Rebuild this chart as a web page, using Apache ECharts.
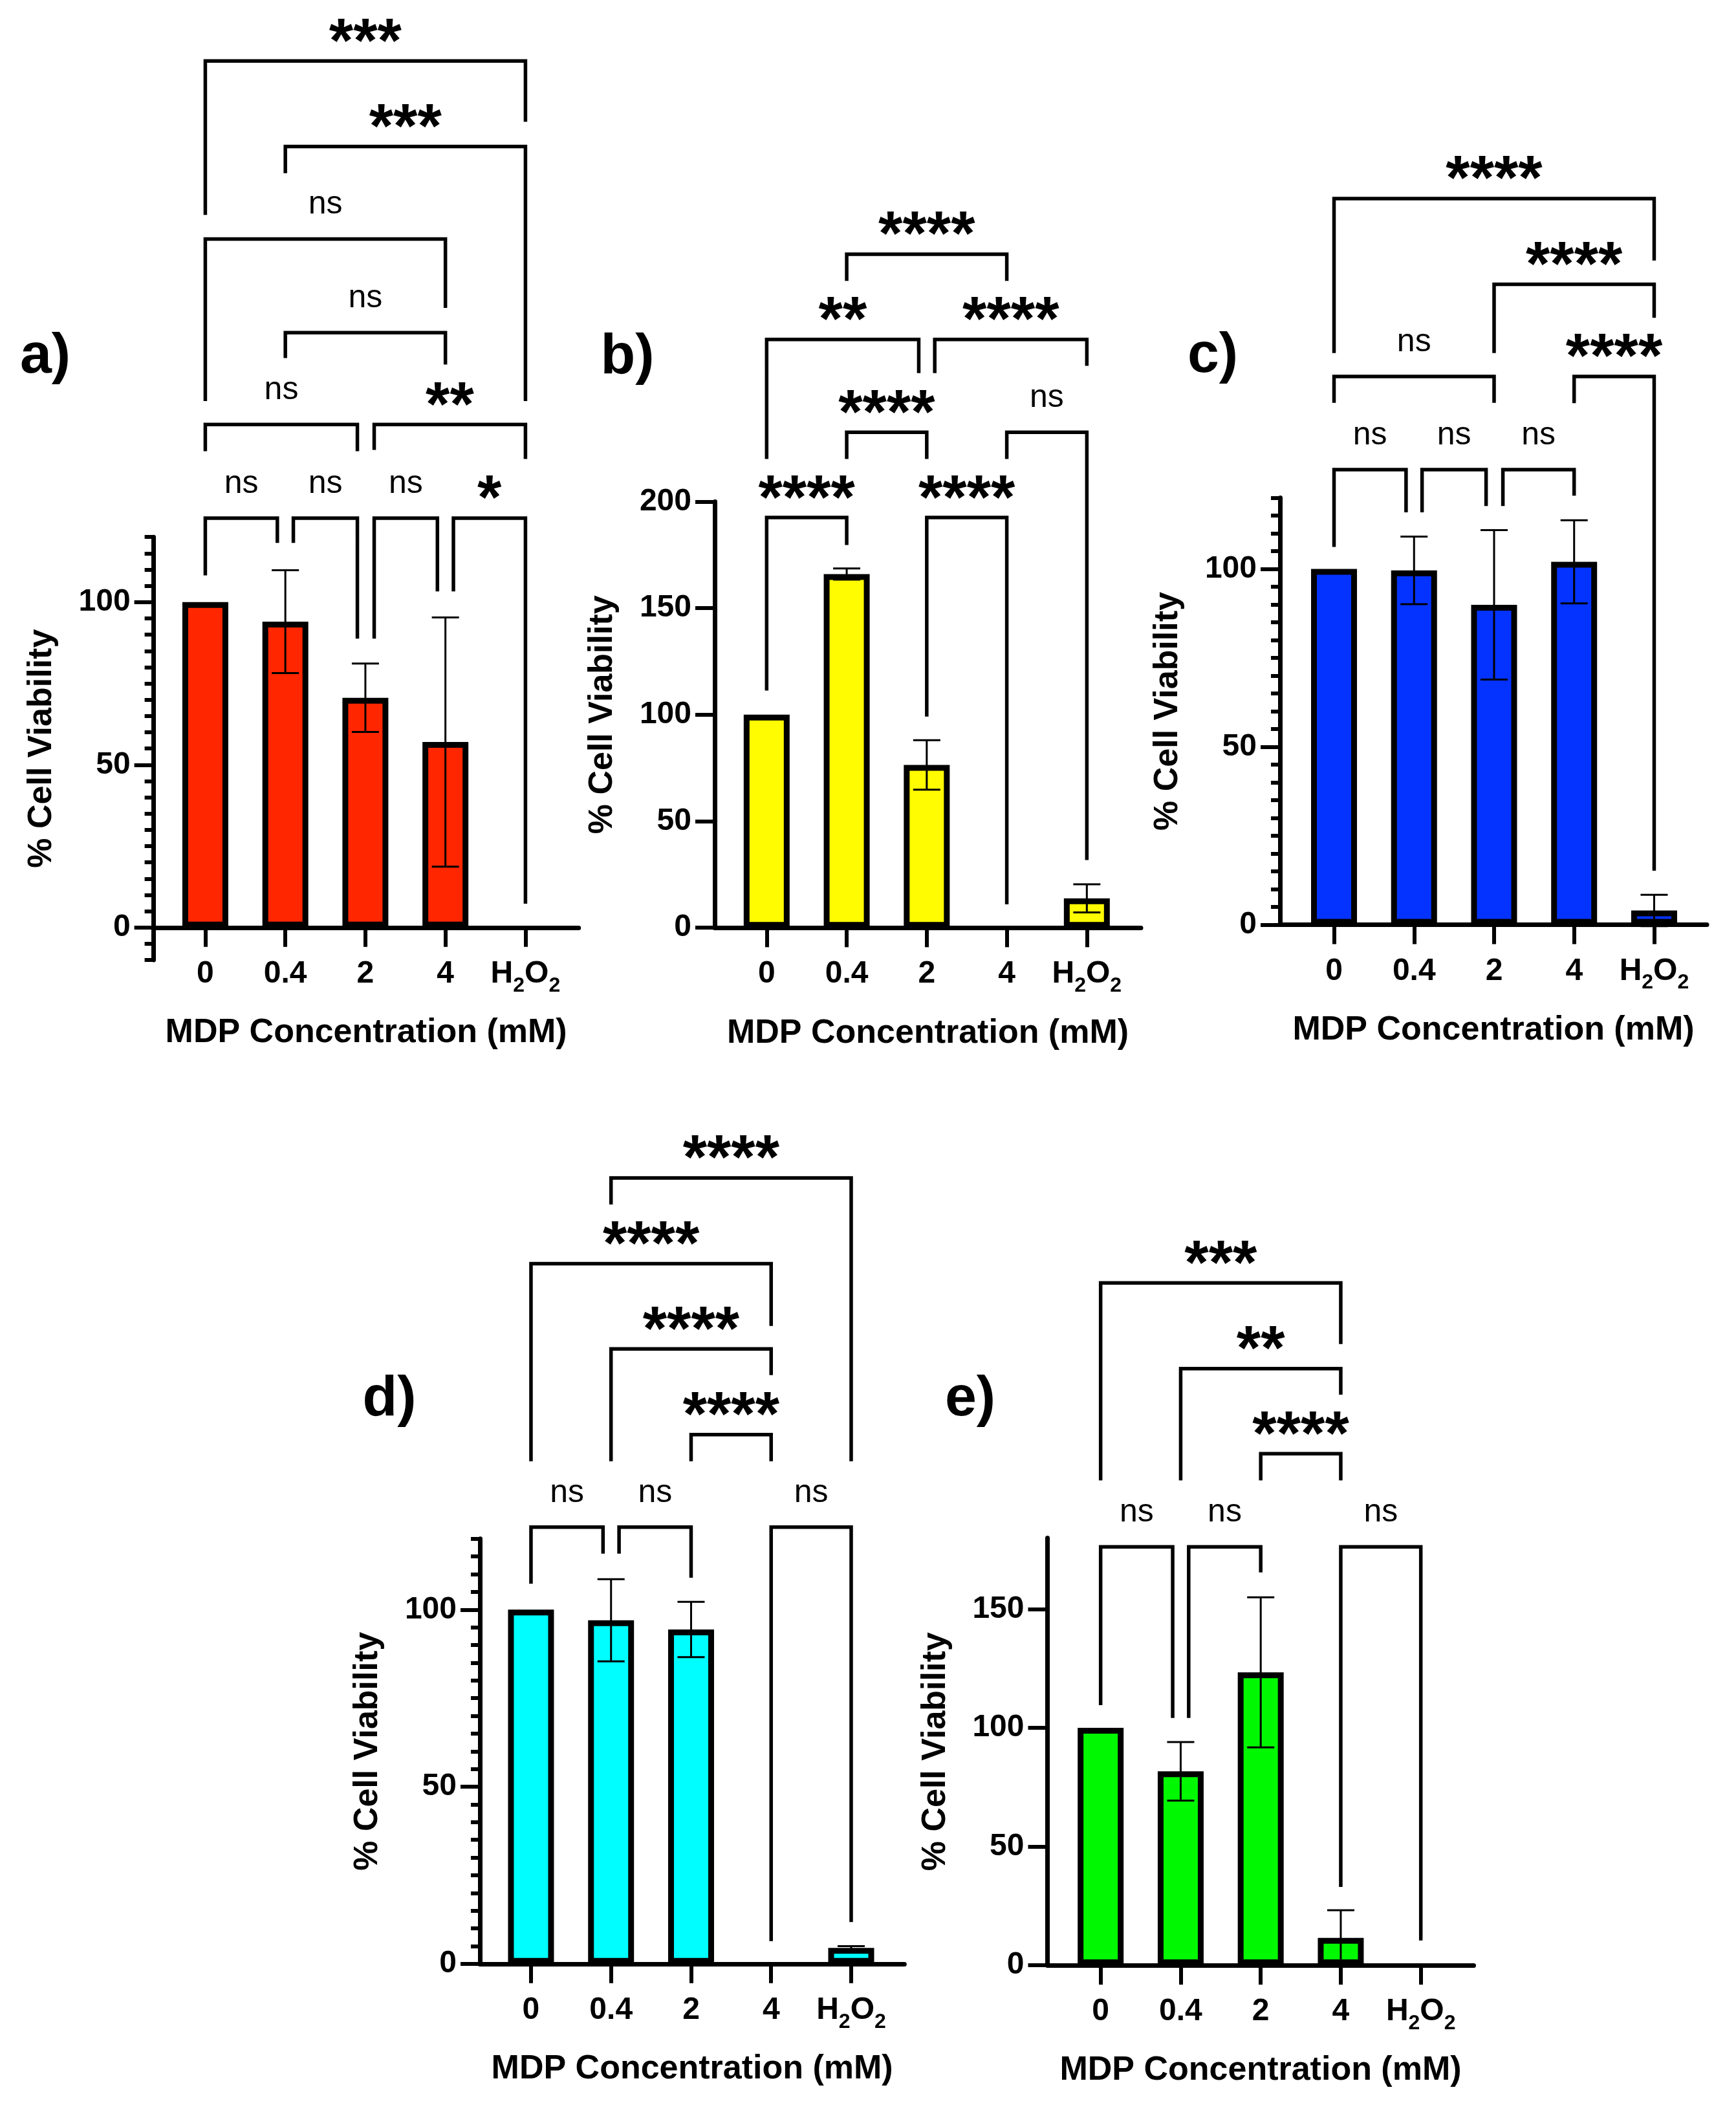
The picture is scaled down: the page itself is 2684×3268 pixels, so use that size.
<!DOCTYPE html>
<html><head><meta charset="utf-8">
<script src="https://cdn.jsdelivr.net/npm/echarts@6/dist/echarts.min.js"></script>
<style>html,body{margin:0;padding:0;background:#fff}#c{width:2684px;height:3268px}</style>
</head><body><div id="c"></div>
<script>
// ---------- data ----------
const categories = ['0', '0.4', '2', '4', 'H2O2'];
const xTitle = 'MDP Concentration (mM)';
const yTitle = '% Cell Viability';

const meanA = [100, 94, 70.6, 57, 0];
const errA  = [0, 15.8, 10.5, 38.3, 0];
const meanB = [100, 166, 76.4, 0, 13.8];
const errB  = [0, 2.6, 11.6, 0, 6.6];
const meanC = [100, 99.6, 89.9, 102, 4];
const errC  = [0, 9.5, 21, 11.7, 4.4];
const meanD = [100, 97, 94.4, 0, 4.5];
const errD  = [0, 11.6, 7.8, 0, 0.5];
const meanE = [100, 81.7, 123.4, 11.5, 0];
const errE  = [0, 12.3, 31.6, 11.7, 0];

const yTicksA = [0, 50, 100];
const yTicksB = [0, 50, 100, 150, 200];
const yTicksC = [0, 50, 100];
const yTicksD = [0, 50, 100];
const yTicksE = [0, 50, 100, 150];

// brackets: [from group, to group, top value, left end value, right end value]
const bracketsA = [[0,4,266.3,219.0,247.6],[1,4,240.0,231.8,161.8],[0,3,211.6,161.8,190.4],[1,3,182.8,175.0,173.0],
  [0,1.9,154.6,146.4,146.4],[2.11,4,154.6,146.8,144.0],[0,0.9,125.8,108.2,118.2],[1.1,1.9,125.8,118.2,88.8],
  [2.11,2.9,125.8,88.8,103.3],[3.1,4,125.8,103.3,7.3]];
const labelsA = ['***','***','ns','ns','ns','**','ns','ns','ns','*'];
const bracketsB = [[1,3,316.1,303.6,303.6],[0,1.9,276.1,220.0,260.3],[2.1,4,276.1,260.3,263.7],[1,2,232.5,220.0,220.0],
  [3,4,232.5,220.0,31.8],[0,1,192.5,111.3,179.6],[2,3,192.5,99.1,11.0]];
const labelsB = ['****','**','****','****','ns','****','****'];
const bracketsC = [[0,4,204.1,160.7,186.7],[2,4,180.0,160.7,170.6],[0,2,154.1,146.7,146.7],[3,4,154.1,146.6,15.2],
  [0,0.9,127.9,106.2,115.9],[1.1,1.9,127.9,115.9,117.7],[2.11,3,127.9,117.7,120.6]];
const labelsC = ['****','****','ns','****','ns','ns','ns'];
const bracketsD = [[1,4,221.9,214.4,141.9],[0,3,197.7,141.9,180.1],[1,3,173.6,141.9,166.2],[2,3,149.4,141.9,141.9],
  [0,0.9,123.3,107.3,115.8],[1.1,2,123.3,115.8,109.0],[3,4,123.3,6.4,11.8]];
const labelsD = ['****','****','****','****','ns','ns','ns'];
const bracketsE = [[0,3,287.5,204.3,261.7],[1,3,251.4,204.3,240.4],[2,3,215.5,204.3,204.3],
  [0,0.9,176.3,109.6,104.2],[1.1,2,176.3,104.2,165.5],[3,4,176.3,33.0,10.4]];
const labelsE = ['***','**','****','ns','ns','ns'];

// ---------- layout ----------
const F = '"Liberation Sans", Arial, Helvetica, sans-serif';
const panels = [
  {tag:'a)', tx:70, ty:552, left:237.6, top:830.2, width:657.1, height:653.9, yMin:-10, yMax:120, xMin:-0.645, xMax:4.665, minor:true, ticks:yTicksA, color:'#FF2600', mean:meanA, err:errA, br:bracketsA, lab:labelsA},
  {tag:'b)', tx:970, ty:553, left:1105, top:775.4, width:659, height:658.8, yMin:0, yMax:200, xMin:-0.649, xMax:4.676, minor:false, ticks:yTicksB, color:'#FFFB00', mean:meanB, err:errB, br:bracketsB, lab:labelsB},
  {tag:'c)', tx:1875, ty:551, left:1979, top:769.5, width:660, height:660, yMin:0, yMax:120, xMin:-0.675, xMax:4.659, minor:true, ticks:yTicksC, color:'#0433FF', mean:meanC, err:errC, br:bracketsC, lab:labelsC},
  {tag:'d)', tx:602, ty:2164, left:742, top:2378.8, width:656.3, height:657, yMin:0, yMax:120, xMin:-0.638, xMax:4.665, minor:true, ticks:yTicksD, color:'#00FDFF', mean:meanD, err:errD, br:bracketsD, lab:labelsD},
  {tag:'e)', tx:1500, ty:2164, left:1619.5, top:2377.6, width:659, height:660.4, yMin:0, yMax:180, xMin:-0.664, xMax:4.661, minor:false, ticks:yTicksE, color:'#00F900', mean:meanE, err:errE, br:bracketsE, lab:labelsE}
];

const rich = {
  m: {fontSize:48, fontWeight:'bold', fontFamily:F, color:'#000', lineHeight:48, padding:[0,0,21,0], verticalAlign:'top'},
  s: {fontSize:32, fontWeight:'bold', fontFamily:F, color:'#000', lineHeight:32, padding:[26,0,0,0], verticalAlign:'top'}
};
function xFmt(v) {
  const c = categories[Math.round(v)];
  if (c === 'H2O2') return '{m|H}{s|2}{m|O}{s|2}';
  return c;
}

const grids = [], xAxes = [], yAxes = [], series = [];
panels.forEach((p, i) => {
  grids.push({left:p.left, top:p.top, width:p.width, height:p.height});
  // x axis sits at the y = 0 line (lifted from the grid bottom when the y axis extends below zero)
  const lift = -p.yMin / (p.yMax - p.yMin) * p.height;
  xAxes.push({
    type:'value', gridIndex:i, min:p.xMin, max:p.xMax, splitLine:{show:false}, offset:-lift,
    axisLine:{show:true, onZero:false, lineStyle:{color:'#000', width:7}},
    axisTick:{show:true, customValues:[0,1,2,3,4], length:30, lineStyle:{color:'#000', width:6}},
    axisLabel:{show:true, customValues:[0,1,2,3,4], formatter:xFmt, margin:48, fontSize:48, fontWeight:'bold', fontFamily:F, color:'#000', rich:rich},
    name:xTitle, nameLocation:'middle', nameGap:137,
    nameTextStyle:{fontSize:52, fontWeight:'bold', fontFamily:F, color:'#000'}
  });
  const yMain = yAxes.length;
  yAxes.push({
    type:'value', gridIndex:i, position:'left', min:p.yMin, max:p.yMax, splitLine:{show:false},
    axisLine:{show:true, onZero:false, lineStyle:{color:'#000', width:7}},
    axisTick:{show:true, customValues:p.ticks, length:30, lineStyle:{color:'#000', width:6}},
    axisLabel:{show:true, customValues:p.ticks, margin:36, fontSize:48, fontWeight:'bold', fontFamily:F, color:'#000'},
    name:yTitle, nameLocation:'middle', nameGap:147,
    nameTextStyle:{fontSize:52, fontWeight:'bold', fontFamily:F, color:'#000'}
  });
  if (p.minor) {
    yAxes.push({
      type:'value', gridIndex:i, position:'left', min:p.yMin, max:p.yMax, interval:5, splitLine:{show:false},
      axisLine:{show:false, onZero:false}, axisLabel:{show:false},
      axisTick:{show:true, length:14, lineStyle:{color:'#000', width:6}}
    });
  }
  series.push({
    type:'bar', xAxisIndex:i, yAxisIndex:yMain, barWidth:71, silent:true,
    itemStyle:{color:p.color, borderColor:'#000', borderWidth:9},
    data:p.mean.map((v, k) => v === 0 ? {value:[k, v], itemStyle:{borderWidth:0, opacity:0}} : {value:[k, v]})
  });
  series.push({
    type:'custom', xAxisIndex:i, yAxisIndex:yMain, z:5, clip:false, silent:true,
    data:p.mean.map((v, k) => [k, v, p.err[k]]).filter(d => d[2] > 0),
    renderItem:(params, api) => {
      const x = api.value(0), m = api.value(1), e = api.value(2);
      const t = api.coord([x, m + e]), b = api.coord([x, m - e]);
      const st = {stroke:'#000', lineWidth:3};
      return {type:'group', children:[
        {type:'line', shape:{x1:t[0], y1:t[1], x2:b[0], y2:b[1]}, style:st},
        {type:'line', shape:{x1:t[0]-21, y1:t[1], x2:t[0]+21, y2:t[1]}, style:st},
        {type:'line', shape:{x1:b[0]-21, y1:b[1], x2:b[0]+21, y2:b[1]}, style:st}
      ]};
    }
  });
  series.push({
    type:'custom', xAxisIndex:i, yAxisIndex:yMain, z:5, clip:false, silent:true,
    data:p.br,
    renderItem:(params, api) => {
      const x1 = api.value(0), x2 = api.value(1), top = api.value(2), le = api.value(3), re = api.value(4);
      const a = api.coord([x1, le]), b = api.coord([x1, top]), c = api.coord([x2, top]), d = api.coord([x2, re]);
      const lab = p.lab[params.dataIndex];
      const isNs = lab === 'ns';
      return {type:'group', children:[
        {type:'polyline', shape:{points:[a, b, c, d]}, style:{stroke:'#000', lineWidth:5.5, fill:null, lineJoin:'miter', lineCap:'butt'}},
        {type:'text', x:(b[0] + c[0]) / 2, y:b[1] - (isNs ? 53 : 26),
          style:{text:lab, fontSize:isNs ? 50 : 96, fontWeight:isNs ? 'normal' : 'bold', fontFamily:F, fill:'#000',
            align:'center', verticalAlign:'middle'}}
      ]};
    }
  });
});

const chart = echarts.init(document.getElementById('c'), null, {renderer:'canvas'});
chart.setOption({
  backgroundColor:'#fff',
  animation:false,
  grid:grids, xAxis:xAxes, yAxis:yAxes, series:series,
  graphic:panels.map(p => ({type:'text', x:p.tx, y:p.ty,
    style:{text:p.tag, fontSize:88, fontWeight:'bold', fontFamily:F, fill:'#000', align:'center', verticalAlign:'middle'}}))
});
</script></body></html>
